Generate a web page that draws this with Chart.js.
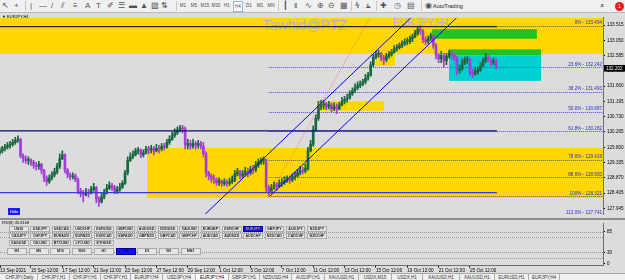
<!DOCTYPE html>
<html>
<head>
<meta charset="utf-8">
<title>EURJPY,H4</title>
<script src="https://cdn.jsdelivr.net/npm/chart.js@4.4.1/dist/chart.umd.min.js"></script>
<style>
  body { margin: 0; width: 625px; height: 280px; overflow: hidden; position: relative; background: #f0f0f0; font-family: "Liberation Sans", Arial, sans-serif; }
  #toolbar { position: absolute; left: 0; top: 0; width: 625px; height: 12px; background: #f0f0f0; border-bottom: 1px solid #b9b9b9; }
  #toolbar span { position: absolute; top: 0; line-height: 12px; font-size: 8px; color: #505050; white-space: nowrap; }
  #toolbar span.tf { font-size: 4.5px; width: 10px; text-align: center; color: #4a4a4a; }
  #toolbar span.on { background: #fff; border: 1px solid #9cb4d8; box-sizing: border-box; line-height: 9px; top: 1px; height: 11px; }
  #toolbar span.sep { width: 1px; height: 10px; top: 1px; background: #c6c6c6; }
  canvas { position: absolute; left: 0; background: #dcdcdc; }
  #main { top: 13px; }
  #rsi { top: 219px; }
  #split { position: absolute; left: 0; top: 218px; width: 625px; height: 2px; background: #8e8e8e; }
  .lbl { position: absolute; font-size: 4.5px; line-height: 5px; color: #000; white-space: nowrap; }
  .btn { position: absolute; height: 6px; width: 19.5px; box-sizing: border-box; border: 1px solid #ababab; background: #e6e6e6; font-size: 3.6px; line-height: 4px; text-align: center; color: #1e1e1e; font-weight: bold; overflow: hidden; white-space: nowrap; }
  .btn.sel { background: #1010f0; color: #ff8c1a; border-color: #0000a0; }
  .btn.tfsel { background: #1010f0; color: #00008a; border-color: #0000a0; }
  #hide { position: absolute; left: 8px; top: 208px; width: 12px; height: 7px; background: #1a1aff; color: #fff; font-size: 4px; line-height: 7px; text-align: center; }
  #tabs { position: absolute; left: 0; top: 273px; width: 625px; height: 7px; background: #f0f0f0; border-top: 1px solid #a8a8a8; }
  #tabs span { position: absolute; top: 0; height: 7px; font-size: 4.5px; line-height: 7px; color: #333; border-right: 1px solid #b0b0b0; white-space: nowrap; box-sizing: border-box; text-align: center; }
  #tabs span.act { background: #fff; color: #000; }
</style>
</head>
<body>
<div id="toolbar"></div>
<canvas id="main" width="625" height="206"></canvas>
<canvas id="rsi" width="625" height="54"></canvas>
<div id="split"></div>
<div class="lbl" style="left:2px;top:13.5px;font-size:4px">&#9660; EURJPY,H4</div>
<div class="lbl" style="left:2px;top:219.5px;font-size:4px">RSI(8) 45.8108</div>
<div id="hide">Hide</div>
<div id="panel"></div>
<div id="tabs"></div>
<script>
// EURJPY H4, bars counted from Mon 13 Sep 2021 00:00 (6 bars a trading day)
const firstBar = 3;
const firstOpen = 129.62;
const closes = [
  129.69, 129.75, 129.80, 129.86, 129.89, 129.95, 130.01, 130.04, 129.54, 129.45,
  129.40, 129.42, 129.34, 129.25, 129.22, 129.28, 129.10, 128.87, 128.75, 128.87,
  128.96, 129.05, 129.22, 129.45, 129.57, 129.10, 128.96, 128.90, 128.93, 128.81,
  128.46, 128.40, 128.35, 128.43, 128.40, 128.52, 128.58, 128.23, 128.14, 128.29,
  128.40, 128.55, 128.64, 128.58, 128.46, 128.52, 128.58, 128.70, 129.02, 129.40,
  129.51, 129.57, 129.69, 129.72, 129.57, 129.63, 129.75, 129.72, 129.77, 129.69,
  129.77, 129.75, 129.83, 129.80, 129.95, 130.04, 130.15, 130.24, 130.33, 130.39,
  130.36, 129.86, 129.92, 129.83, 129.92, 129.86, 129.92, 129.83, 129.60, 129.02,
  128.93, 128.87, 128.81, 128.73, 128.78, 128.70, 128.75, 128.70, 128.75, 128.81,
  128.99, 129.05, 128.93, 128.99, 129.07, 129.02, 129.13, 129.10, 129.25, 129.34,
  129.40, 129.42, 128.58, 128.43, 128.55, 128.64, 128.61, 128.70, 128.73, 128.78,
  128.84, 128.81, 128.90, 128.93, 129.02, 129.10, 129.07, 129.16, 129.69, 129.89,
  130.33, 130.68, 131.03, 131.09, 131.12, 131.03, 131.09, 130.97, 131.03, 130.97,
  131.09, 131.20, 131.26, 131.29, 131.44, 131.52, 131.61, 131.67, 131.73, 131.79,
  131.90, 131.99, 132.31, 132.54, 132.63, 132.66, 132.51, 132.46, 132.57, 132.63,
  132.69, 132.81, 132.83, 132.89, 132.95, 133.01, 133.01, 133.10, 133.16, 133.27,
  133.39, 133.33, 133.07, 133.01, 133.10, 133.19, 132.89, 132.60, 132.49, 132.60,
  132.43, 132.57, 132.66, 132.60, 132.51, 132.14, 132.19, 132.37, 132.46, 132.49,
  132.08, 132.02, 132.11, 132.14, 132.28, 132.43, 132.54, 132.49, 132.37, 132.43, 132.202
];
const highs = [
  129.80, 129.83, 129.89, 129.95, 129.98, 130.04, 130.10, 130.15, 130.07, 129.60,
  129.54, 129.51, 129.45, 129.40, 129.34, 129.37, 129.31, 129.13, 128.93, 128.96,
  129.05, 129.16, 129.31, 129.60, 129.69, 129.60, 129.16, 129.02, 129.02, 128.99,
  128.87, 128.55, 128.49, 128.55, 128.52, 128.61, 128.70, 128.61, 128.29, 128.40,
  128.52, 128.67, 128.75, 128.70, 128.64, 128.61, 128.70, 128.78, 129.10, 129.51,
  129.63, 129.69, 129.77, 129.80, 129.75, 129.72, 129.83, 129.83, 129.86, 129.83,
  129.89, 129.86, 129.92, 129.92, 130.04, 130.15, 130.27, 130.36, 130.42, 130.47,
  130.47, 130.42, 130.04, 130.01, 130.04, 129.98, 130.01, 129.98, 129.95, 129.66,
  129.07, 128.99, 128.96, 128.87, 128.87, 128.81, 128.84, 128.81, 128.87, 128.93,
  129.10, 129.16, 129.10, 129.10, 129.19, 129.16, 129.22, 129.25, 129.37, 129.45,
  129.48, 129.51, 129.45, 128.64, 128.67, 128.75, 128.73, 128.81, 128.84, 128.90,
  128.93, 128.93, 128.99, 129.05, 129.13, 129.22, 129.19, 129.28, 129.80, 130.01,
  130.45, 130.79, 131.20, 131.23, 131.23, 131.17, 131.20, 131.15, 131.15, 131.12,
  131.17, 131.32, 131.35, 131.41, 131.52, 131.61, 131.73, 131.79, 131.82, 131.87,
  132.02, 132.08, 132.40, 132.63, 132.72, 132.75, 132.69, 132.60, 132.66, 132.72,
  132.78, 132.89, 132.92, 132.98, 133.04, 133.10, 133.13, 133.19, 133.24, 133.36,
  133.45, 133.494, 133.39, 133.16, 133.19, 133.27, 133.21, 132.95, 132.66, 132.72,
  132.66, 132.66, 132.75, 132.72, 132.66, 132.57, 132.31, 132.49, 132.54, 132.57,
  132.51, 132.17, 132.22, 132.25, 132.37, 132.51, 132.66, 132.60, 132.51, 132.51, 132.49
];
const lows = [
  129.57, 129.63, 129.69, 129.75, 129.77, 129.83, 129.89, 129.95, 129.48, 129.34,
  129.31, 129.28, 129.25, 129.16, 129.10, 129.13, 128.99, 128.75, 128.64, 128.70,
  128.81, 128.90, 128.99, 129.16, 129.42, 129.02, 128.87, 128.81, 128.84, 128.75,
  128.38, 128.29, 128.14, 128.32, 128.29, 128.38, 128.46, 128.11, 128.00, 128.11,
  128.23, 128.38, 128.52, 128.49, 128.38, 128.40, 128.46, 128.55, 128.67, 128.96,
  129.37, 129.45, 129.54, 129.60, 129.48, 129.51, 129.60, 129.60, 129.63, 129.57,
  129.66, 129.63, 129.69, 129.72, 129.77, 129.89, 130.01, 130.10, 130.18, 130.27,
  130.24, 129.75, 129.75, 129.75, 129.77, 129.75, 129.77, 129.75, 129.51, 128.90,
  128.81, 128.73, 128.70, 128.64, 128.64, 128.61, 128.64, 128.61, 128.64, 128.70,
  128.75, 128.93, 128.84, 128.87, 128.93, 128.90, 128.96, 128.99, 129.05, 129.19,
  129.28, 129.28, 128.46, 128.321, 128.40, 128.52, 128.49, 128.58, 128.61, 128.67,
  128.73, 128.70, 128.75, 128.81, 128.90, 128.96, 128.99, 129.02, 129.10, 129.66,
  129.83, 130.30, 130.62, 130.94, 130.97, 130.94, 130.97, 130.88, 130.91, 130.82,
  130.94, 131.06, 131.12, 131.17, 131.26, 131.38, 131.47, 131.55, 131.61, 131.67,
  131.73, 131.84, 131.96, 132.25, 132.49, 132.54, 132.43, 132.31, 132.40, 132.51,
  132.57, 132.66, 132.72, 132.78, 132.83, 132.89, 132.92, 132.95, 133.01, 133.13,
  133.21, 133.24, 132.98, 132.92, 132.95, 133.04, 132.81, 132.49, 132.37, 132.37,
  132.25, 132.31, 132.51, 132.49, 132.43, 131.99, 132.05, 132.14, 132.31, 132.34,
  131.99, 131.93, 131.99, 132.02, 132.11, 132.25, 132.37, 132.40, 132.28, 132.31, 132.18
];

// axes
const xMin = 3.14, xMax = 233.9;
const yMin = 127.763, yMax = 133.739;
const priceTicks = [133.515, 133.050, 132.585, 132.120, 131.660, 131.195, 130.730, 130.265, 129.800, 129.335, 128.870, 128.405, 127.945];
const timeTickBars = [3.14, 15, 27, 39, 51, 63, 75, 87, 99, 111, 123, 135, 147, 159, 171, 183];
const timeTickLabels = ["13 Sep 2021", "15 Sep 12:00", "17 Sep 12:00", "21 Sep 12:00", "23 Sep 12:00", "27 Sep 12:00", "29 Sep 12:00", "1 Oct 12:00", "5 Oct 12:00", "7 Oct 12:00", "11 Oct 12:00", "13 Oct 12:00", "15 Oct 12:00", "19 Oct 12:00", "21 Oct 12:00", "25 Oct 12:00"];
const rsiTicks = [0, 15, 30, 70, 85, 100];
const rsiLevels = [15, 30, 70, 85];

// objects on the chart (bar index / price)
const zoneFrom = [3.14, 59.4, 124.5, 147, 168.5, 175, 175];
const zoneTo = [233.9, 233.9, 150.1, 154.3, 208.6, 210.2, 210.2];
const zoneHigh = [133.74, 129.775, 131.20, 132.64, 133.39, 132.78, 132.60];
const zoneLow = [132.64, 128.26, 130.91, 132.28, 133.10, 132.60, 131.82];
const hLinePrice = [133.47, 130.30, 128.42];
const hLineTo = 193.3;
const channelFrom = [81.6, 106.5];
const channelFromPrice = [127.76, 128.32];
const channelTo = [160.4, 177.9];
const channelToPrice = [133.74, 133.74];
const fibFrom = 106;
const fibLevels = ["0%", "23.6%", "38.2%", "50.0%", "61.8%", "78.6%", "88.6%", "100%", "113.0%"];
const fibPrices = [133.494, 132.242, 131.493, 130.887, 130.282, 129.419, 128.900, 128.321, 127.741];
const fibTrendFrom = [106.1, 128.32];
const fibTrendTo = [144.7, 133.74];

const zoneColors = ["#ffd700", "#ffd700", "#ffd700", "#ffd700", "#22c31e", "#22c31e", "#00ced1"];
const hLineColors = ["#262626", "#0a0a80", "#3a3ad8"];
const bullColor = "#17673f";
const bearColor = "#a43ed6";

const opens = closes.map((c, k) => k === 0 ? firstOpen : closes[k - 1]);
const bodies = closes.map((c, k) => ({ x: firstBar + k, y: [opens[k], c] }));
const wicks = closes.map((c, k) => ({
  x: firstBar + k,
  y: [Math.min(lows[k], opens[k], c), Math.max(highs[k], opens[k], c)]
}));
const candleColors = closes.map((c, k) => c >= opens[k] ? bullColor : bearColor);

const font = '"Liberation Sans", Arial, sans-serif';

function clipArea(ctx, a) {
  ctx.beginPath();
  ctx.rect(a.left, a.top, a.right - a.left, a.bottom - a.top);
  ctx.clip();
}

const chartObjects = {
  id: "chartObjects",
  beforeDatasetsDraw(chart) {
    const { ctx, chartArea: a, scales: { x, y } } = chart;
    ctx.save();
    clipArea(ctx, a);
    zoneFrom.forEach((f, k) => {
      const x0 = x.getPixelForValue(f), x1 = x.getPixelForValue(zoneTo[k]);
      const y0 = y.getPixelForValue(zoneHigh[k]), y1 = y.getPixelForValue(zoneLow[k]);
      ctx.fillStyle = zoneColors[k];
      ctx.fillRect(x0, y0, x1 - x0, y1 - y0);
    });

    ctx.fillStyle = "#a9b4d0";
    ctx.font = "14px " + font;
    ctx.textBaseline = "alphabetic";
    ctx.textAlign = "left";
    ctx.fillText("Tawhid@PTZ", 263, a.top + 12);
    ctx.font = "10.5px " + font;
    ctx.fillText("EURJPY,H4", 393, a.top + 8);

    // fibo levels
    ctx.setLineDash([1, 1]);
    ctx.lineWidth = 1;
    ctx.strokeStyle = "#4a4ae6";
    const fx = x.getPixelForValue(fibFrom);
    fibPrices.forEach((p, k) => {
      const py = Math.round(y.getPixelForValue(p)) + 0.5;
      ctx.beginPath();
      ctx.moveTo(fx, py);
      ctx.lineTo(a.right, py);
      ctx.stroke();
    });
    ctx.restore();
  },
  afterDatasetsDraw(chart) {
    const { ctx, chartArea: a, scales: { x, y } } = chart;
    ctx.save();
    clipArea(ctx, a);
    hLinePrice.forEach((p, k) => {
      const py = y.getPixelForValue(p);
      ctx.strokeStyle = hLineColors[k];
      ctx.lineWidth = 1.4;
      ctx.beginPath();
      ctx.moveTo(a.left, py);
      ctx.lineTo(x.getPixelForValue(hLineTo), py);
      ctx.stroke();
    });

    ctx.strokeStyle = "#0000ff";
    ctx.lineWidth = 1;
    channelFrom.forEach((f, k) => {
      ctx.beginPath();
      ctx.moveTo(x.getPixelForValue(f), y.getPixelForValue(channelFromPrice[k]));
      ctx.lineTo(x.getPixelForValue(channelTo[k]), y.getPixelForValue(channelToPrice[k]));
      ctx.stroke();
    });

    ctx.strokeStyle = "#ff6f61";
    ctx.setLineDash([1, 1.5]);
    ctx.beginPath();
    ctx.moveTo(x.getPixelForValue(fibTrendFrom[0]), y.getPixelForValue(fibTrendFrom[1]));
    ctx.lineTo(x.getPixelForValue(fibTrendTo[0]), y.getPixelForValue(fibTrendTo[1]));
    ctx.stroke();
    ctx.setLineDash([]);

    ctx.font = "4.6px " + font;
    ctx.fillStyle = "#2a2ad0";
    ctx.textAlign = "right";
    ctx.textBaseline = "bottom";
    fibPrices.forEach((p, k) => {
      ctx.fillText(fibLevels[k] + " - " + p.toFixed(3), a.right - 1, y.getPixelForValue(p) - 0.3);
    });
    ctx.restore();

    // last price on the scale
    const last = closes[closes.length - 1];
    const ly = y.getPixelForValue(last);
    ctx.save();
    ctx.fillStyle = "#000";
    ctx.fillRect(a.right + 1, ly - 3.3, 22, 6.6);
    ctx.fillStyle = "#fff";
    ctx.font = "4.6px " + font;
    ctx.textAlign = "left";
    ctx.textBaseline = "middle";
    ctx.fillText(last.toFixed(3), a.right + 3, ly + 0.2);
    ctx.restore();
  }
};

new Chart(document.getElementById("main"), {
  type: "bar",
  data: {
    datasets: [
      { data: wicks, backgroundColor: candleColors, barThickness: 1, grouped: false, order: 2 },
      { data: bodies, backgroundColor: candleColors, barThickness: 2, grouped: false, minBarLength: 1, order: 1 }
    ]
  },
  options: {
    responsive: false,
    animation: false,
    events: [],
    layout: { padding: { top: 0, bottom: 1, left: 0, right: 0 } },
    plugins: { legend: { display: false }, tooltip: { enabled: false } },
    scales: {
      x: { type: "linear", min: xMin, max: xMax, offset: false, display: false },
      y: {
        position: "right",
        min: yMin,
        max: yMax,
        afterFit(s) { s.width = 22; },
        afterBuildTicks(s) { s.ticks = priceTicks.map(v => ({ value: v })); },
        ticks: { callback: v => v.toFixed(3), color: "#000", padding: 2, font: { size: 4.6, family: font } },
        grid: { drawOnChartArea: false, tickLength: 2, color: "#000" },
        border: { color: "#6e6e6e" }
      }
    }
  },
  plugins: [chartObjects]
});

const rsiLevelLines = {
  id: "rsiLevelLines",
  beforeDatasetsDraw(chart) {
    const { ctx, chartArea: a, scales: { y } } = chart;
    ctx.save();
    ctx.strokeStyle = "#9a9a9a";
    ctx.setLineDash([1, 1]);
    ctx.lineWidth = 1;
    rsiLevels.forEach(v => {
      const py = Math.round(y.getPixelForValue(v)) + 0.5;
      ctx.beginPath();
      ctx.moveTo(a.left, py);
      ctx.lineTo(a.right, py);
      ctx.stroke();
    });
    ctx.restore();
  }
};

new Chart(document.getElementById("rsi"), {
  type: "line",
  data: { datasets: [] },
  options: {
    responsive: false,
    animation: false,
    events: [],
    layout: { padding: { top: 1, left: 0, right: 0, bottom: 0 } },
    plugins: { legend: { display: false }, tooltip: { enabled: false } },
    scales: {
      x: {
        type: "linear",
        min: xMin,
        max: xMax,
        offset: false,
        position: "bottom",
        afterFit(s) { s.height = 7.5; },
        afterBuildTicks(s) { s.ticks = timeTickBars.map(v => ({ value: v })); },
        ticks: {
          autoSkip: false, maxRotation: 0, align: "start", padding: 0,
          color: "#000", font: { size: 4.6, family: font },
          callback: v => timeTickLabels[timeTickBars.indexOf(v)]
        },
        grid: { drawOnChartArea: false, tickLength: 2, color: "#000" },
        border: { color: "#6e6e6e" }
      },
      y: {
        position: "right",
        min: -4.3,
        max: 105.6,
        afterFit(s) { s.width = 22; },
        afterBuildTicks(s) { s.ticks = rsiTicks.map(v => ({ value: v })); },
        ticks: { color: "#000", padding: 2, font: { size: 4.6, family: font }, callback: v => String(v) },
        grid: { drawOnChartArea: false, tickLength: 2, color: "#000" },
        border: { color: "#6e6e6e" }
      }
    }
  },
  plugins: [rsiLevelLines]
});

// terminal chrome: toolbar, symbol panel, tabs
const toolbarItems = [
  [2, "\u2196"], [14, "+"], [25, "|sep"], [30, "|"], [39, "\u2014"], [51, "/"], [61, "\u2AFD"], [73, "\u2261"], [85, "A"], [96, "T"], [107, "\u2710"], [118, "\u2630"], [129, "\u25AC"], [140, "\u25B2"], [151, "\u25A8"], [161, "\u21C5"],
  [176, "|sep"], [278, "|sep"], [283, "\u2503"], [294, "\u2016"], [305, "\u223F"], [317, "\u2295"], [328, "\u2296"], [340, "\u25A6"],
  [351, "|sep"], [355, "\u2AE9"], [366, "\u2AE8"], [376, "|sep"], [380, "\u271A"], [394, "\u25F7"], [407, "\u25A4"], [421, "|sep"], [425, "\u25C9"], [600, "\u2315"]
];
const timeframes = ["M1", "M5", "M15", "M30", "H1", "H4", "D1", "W1", "MN"];
const tb = document.getElementById("toolbar");
toolbarItems.forEach(([left, g]) => {
  const s = document.createElement("span");
  if (g === "|sep") { s.className = "sep"; } else { s.textContent = g; }
  s.style.left = left + "px";
  tb.appendChild(s);
});
timeframes.forEach((t, k) => {
  const s = document.createElement("span");
  s.className = "tf" + (t === "H4" ? " on" : "");
  s.textContent = t;
  s.style.left = (178 + k * 11) + "px";
  tb.appendChild(s);
});
const at = document.createElement("span");
at.textContent = "AutoTrading";
at.style.cssText = "left:433px;font-size:5.5px;color:#222";
tb.appendChild(at);
const bell = document.createElement("span");
bell.textContent = "1";
bell.style.cssText = "left:615px;top:1.5px;width:9px;height:9px;line-height:9px;border-radius:50%;background:#e02020;color:#fff;font-size:5px;text-align:center";
tb.appendChild(bell);

const symbolRows = [
  ["US30", "USDJPY", "USDCAD", "USDCHF", "EURUSD", "GBPUSD", "AUDUSD", "NZDUSD", "XAUUSD", "EURGBP", "EURCHF", "EURJPY", "GBPJPY", "AUDJPY", "NZDJPY"],
  ["CADJPY", "CHFJPY", "EURAUD", "EURNZD", "EURCAD", "GBPAUD", "GBPNZD", "GBPCAD", "GBPCHF", "AUDCAD", "AUDNZD", "AUDCHF", "NZDCAD", "CADCHF", "NZDCHF"],
  ["XAGUSD", "OILUSD", "BTCUSD", "LTCUSD", "ETHUSD"]
];
const panelTimeframes = ["M1", "M5", "M15", "M30", "H1", "H4", "D1", "W1", "MN1"];
const panel = document.getElementById("panel");
symbolRows.forEach((row, r) => {
  row.forEach((sym, k) => {
    const b = document.createElement("div");
    b.className = "btn" + (sym === "EURJPY" ? " sel" : "");
    b.textContent = sym;
    b.style.left = (9 + k * 21.3) + "px";
    b.style.top = (226 + r * 7) + "px";
    panel.appendChild(b);
  });
});
panelTimeframes.forEach((t, k) => {
  const b = document.createElement("div");
  b.className = "btn" + (t === "H4" ? " tfsel" : "");
  b.textContent = t;
  b.style.left = (7 + k * 21.7) + "px";
  b.style.top = "248px";
  b.style.width = "20px";
  b.style.height = "6.5px";
  panel.appendChild(b);
});

const tabNames = ["CHFJPY,Daily", "CHFJPY,H1", "CHFJPY,H1", "CHFJPY,H1", "EURJPY,H4", "USDJPY,H4", "EURJPY,H4", "GBPJPY,H1", "NZDUSD,H4", "AUDJPY,H1", "XAUUSD,H1", "USDX,M15", "USDX,H1", "XAUUSD,H1", "XAUUSD,H1", "EURUSD,H1", "EURJPY,H4"];
const tabLeft = [2, 38, 70, 101, 131, 163, 196, 229, 260, 292, 325, 359, 392, 423, 460, 495, 529];
const tabs = document.getElementById("tabs");
tabNames.forEach((t, k) => {
  const s = document.createElement("span");
  s.className = (k === 6 ? "act" : "");
  s.textContent = t;
  s.style.left = tabLeft[k] + "px";
  s.style.width = ((k + 1 < tabLeft.length ? tabLeft[k + 1] : 560) - tabLeft[k]) + "px";
  tabs.appendChild(s);
});
</script>
</body>
</html>
